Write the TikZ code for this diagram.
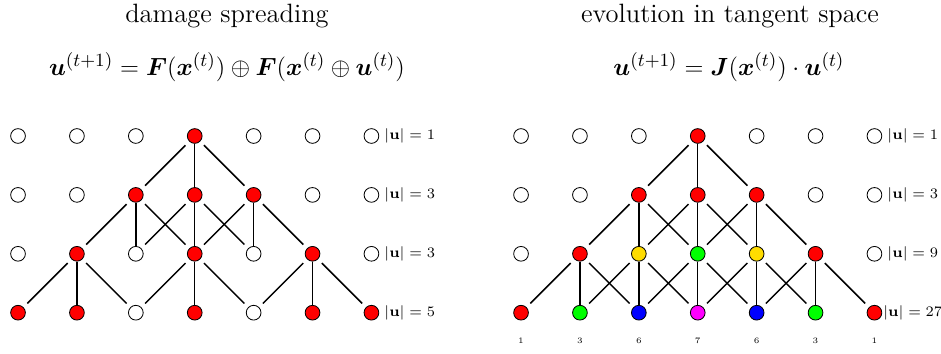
\documentclass[tikz,border=0pt]{standalone}
\usepackage{amsmath,bm}
\definecolor{cw}{RGB}{255,255,255}
\definecolor{cr}{RGB}{255,0,0}
\definecolor{cy}{RGB}{255,220,0}
\definecolor{cg}{RGB}{0,255,0}
\definecolor{cb}{RGB}{0,0,255}
\definecolor{cm}{RGB}{255,0,255}
\tikzset{
  dot/.style={circle,draw=black,line width=0.4pt,minimum size=0.25cm,inner sep=0pt},
  edge/.style={line width=0.7pt,black},
  diag/.style={shorten <=0.09cm,shorten >=0.09cm},
  title/.style={anchor=base,font=\fontsize{12.8}{15}\selectfont},
  lab/.style={anchor=center,font=\fontsize{7}{8}\selectfont},
  num/.style={anchor=center,font=\fontsize{4}{5}\selectfont},
}
\begin{document}
\begin{tikzpicture}
\useasboundingbox (-0.306,-3.701) rectangle (15.670,2.309);
% titles
\node[title] (t1) at (3.548,1.935) {damage spreading};
\node[title] (f1) at (3.548,1.019) {$\bm{u}^{(t+1)}=\bm{F}(\bm{x}^{(t)})\oplus\bm{F}(\bm{x}^{(t)}\oplus\bm{u}^{(t)})$};
\node[title] (t2) at (12.088,1.935) {evolution in tangent space};
\node[title] (f2) at (12.07,1.019) {$\bm{u}^{(t+1)}=\bm{J}(\bm{x}^{(t)})\cdot\bm{u}^{(t)}$};
% left nodes
\foreach \r/\cols in {0/{w,w,w,r,w,w,w},1/{w,w,r,r,r,w,w},2/{w,r,w,r,w,r,w},3/{r,r,w,r,w,r,r}}{
  \foreach \k [count=\c from 0] in \cols {
    \node[dot,fill=c\k] (L-\r-\c) at (\c,-\r) {};
  }
}
% right nodes
\foreach \r/\cols in {0/{w,w,w,r,w,w,w},1/{w,w,r,r,r,w,w},2/{w,r,y,g,y,r,w},3/{r,g,b,m,b,g,r}}{
  \foreach \k [count=\c from 0] in \cols {
    \node[dot,fill=c\k] (R-\r-\c) at (\c+8.54,-\r) {};
  }
}
% left edges
\foreach \r/\c in {0/3,1/2,1/3,1/4,2/1,2/3,2/5}{
  \pgfmathtruncatemacro\rr{\r+1}
  \pgfmathtruncatemacro\cl{\c-1}
  \pgfmathtruncatemacro\cc{\c+1}
  \draw[edge] (L-\r-\c) -- (L-\rr-\c);
  \draw[edge,diag] (L-\r-\c) -- (L-\rr-\cl);
  \draw[edge,diag] (L-\r-\c) -- (L-\rr-\cc);
}
% right edges
\foreach \r/\c in {0/3,1/2,1/3,1/4,2/1,2/2,2/3,2/4,2/5}{
  \pgfmathtruncatemacro\rr{\r+1}
  \pgfmathtruncatemacro\cl{\c-1}
  \pgfmathtruncatemacro\cc{\c+1}
  \draw[edge] (R-\r-\c) -- (R-\rr-\c);
  \draw[edge,diag] (R-\r-\c) -- (R-\rr-\cl);
  \draw[edge,diag] (R-\r-\c) -- (R-\rr-\cc);
}
% labels
\foreach \r/\v in {0/1,1/3,2/3,3/5}{
  \node[lab] (LL-\r) at (6.65,-\r) {$|\mathbf{u}|=\v$};
}
\foreach \r/\v in {0/1,1/3,2/9,3/27}{
  \node[lab] (RL-\r) at (15.19,-\r) {$|\mathbf{u}|=\v$};
}
\foreach \v [count=\c from 0] in {1,3,6,7,6,3,1}{
  \node[num] (N-\c) at (\c+8.54,-3.48) {\v};
}
\end{tikzpicture}
\end{document}
